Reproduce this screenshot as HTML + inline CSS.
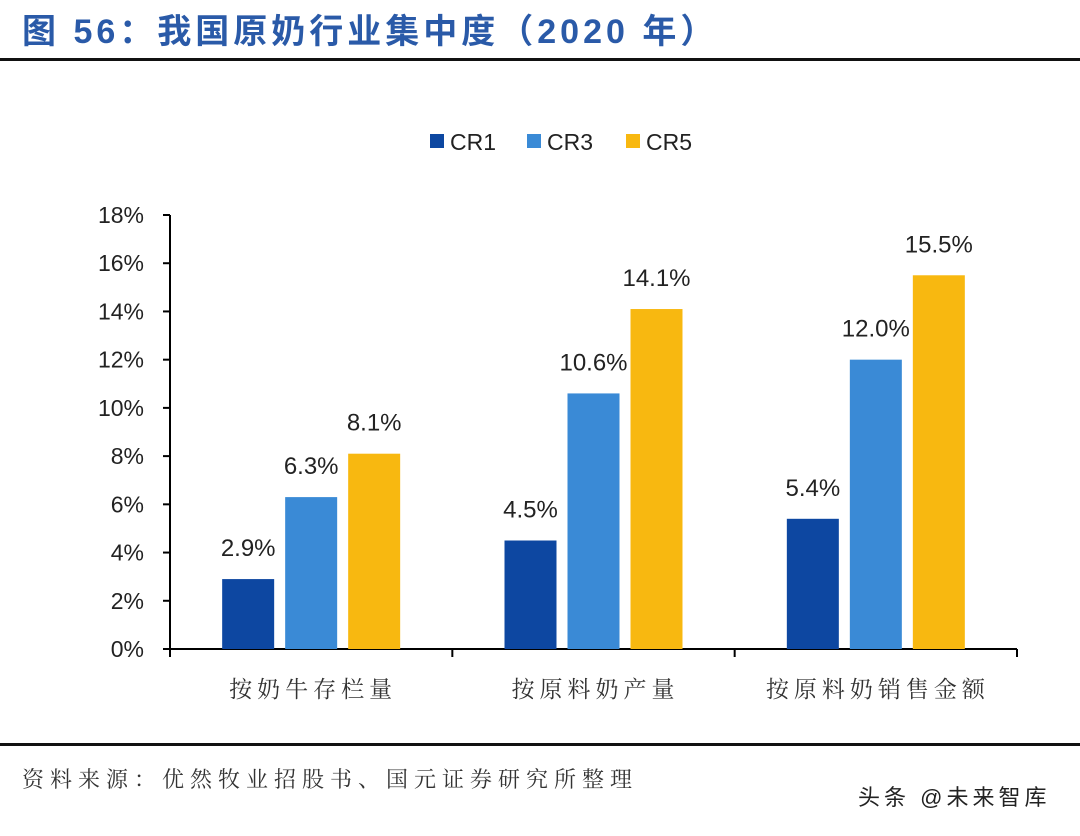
<!DOCTYPE html>
<html><head><meta charset="utf-8"><style>
body{margin:0;background:#fff;width:1080px;height:831px;overflow:hidden;font-family:"Liberation Sans","Noto Sans CJK SC",sans-serif}
</style></head><body>
<svg width="1080" height="831" xmlns="http://www.w3.org/2000/svg">
<text x="22" y="43" font-size="34" font-weight="bold" fill="#2a5aa8" letter-spacing="4" font-family="Liberation Sans,Noto Sans CJK SC,sans-serif">图 56：我国原奶行业集中度（2020 年）</text>
<rect x="0" y="58" width="1080" height="3" fill="#111"/>
<rect x="0" y="743" width="1080" height="3" fill="#111"/>
<text x="22" y="787" font-size="22" fill="#333" letter-spacing="6" font-family="Liberation Sans,Noto Serif CJK SC,sans-serif">资料来源：优然牧业招股书、国元证券研究所整理</text>
<text x="858" y="805" font-size="22" fill="#222" letter-spacing="4" font-family="Liberation Sans,Noto Sans CJK SC,sans-serif">头条 @未来智库</text>
<g id="legend"></g>
<g id="axes"></g>
<g id="bars"></g>
</svg>
<script>
const categories=["按奶牛存栏量","按原料奶产量","按原料奶销售金额"];
const seriesNames=["CR1","CR3","CR5"];
const cr1=[2.9,4.5,5.4];
const cr3=[6.3,10.6,12.0];
const cr5=[8.1,14.1,15.5];
const yTicks=[0,2,4,6,8,10,12,14,16,18];
const colors=["#0d47a1","#3a8ad6","#f8b810"];
const NS="http://www.w3.org/2000/svg";
const X0=170,X1=1017,Y0=649,Y1=215,YMAX=18;
const y=v=>Y0-(v/YMAX)*(Y0-Y1);
const gw=(X1-X0)/categories.length;
const barW=52,gap=11;
const bx=(g,s)=>X0+gw*g+gw/2-(barW*1.5+gap)+s*(barW+gap);
function el(tag,attrs,parent,txt){const e=document.createElementNS(NS,tag);for(const k in attrs)e.setAttribute(k,attrs[k]);if(txt!==undefined)e.textContent=txt;parent.appendChild(e);return e;}
const axes=document.getElementById('axes'),bars=document.getElementById('bars'),legend=document.getElementById('legend');
let a=el('line',{x1:X0,y1:Y1,x2:X0,y2:Y0,stroke:'#000','stroke-width':2},axes);


a=el('line',{x1:X0,y1:Y0,x2:X1,y2:Y0,stroke:'#000','stroke-width':2},axes);


yTicks.forEach(t=>{
 const tk=el('line',{x1:X0-7,y1:y(t),x2:X0,y2:y(t),stroke:'#000','stroke-width':2},axes);
 
 
 const lb=el('text',{x:X0-26,y:y(t)+8,'font-size':23,'text-anchor':'end',fill:'#222'},axes,t+'%');
 
 
});
for(let g=0;g<=categories.length;g++){
 const tk=el('line',{x1:X0+gw*g,y1:Y0,x2:X0+gw*g,y2:Y0+8,stroke:'#000','stroke-width':2},axes);
 
 
}
categories.forEach((c,g)=>{
 const lb=el('text',{x:X0+gw*g+gw/2+2,y:697,'font-size':23,'text-anchor':'middle','letter-spacing':5,fill:'#333','font-family':'Liberation Sans,Noto Serif CJK SC,sans-serif'},axes,c);
 
 
});
const series=[cr1,cr3,cr5];
series.forEach((vals,s)=>{
 vals.forEach((v,g)=>{
  const r=el('rect',{x:bx(g,s),y:y(v),width:barW,height:Y0-y(v),fill:colors[s]},bars);
  
  
  const t=el('text',{x:bx(g,s)+barW/2,y:y(v)-23,'font-size':24,'text-anchor':'middle',fill:'#222'},bars,v.toFixed(1)+'%');
  
  
 });
});
const lx=[430,527,626];
seriesNames.forEach((n,i)=>{
 const r=el('rect',{x:lx[i],y:134,width:14,height:14,fill:colors[i]},legend);
 
 
 const t=el('text',{x:lx[i]+20,y:150,'font-size':23,fill:'#222'},legend,n);
 
 
});
</script>
</body></html>
